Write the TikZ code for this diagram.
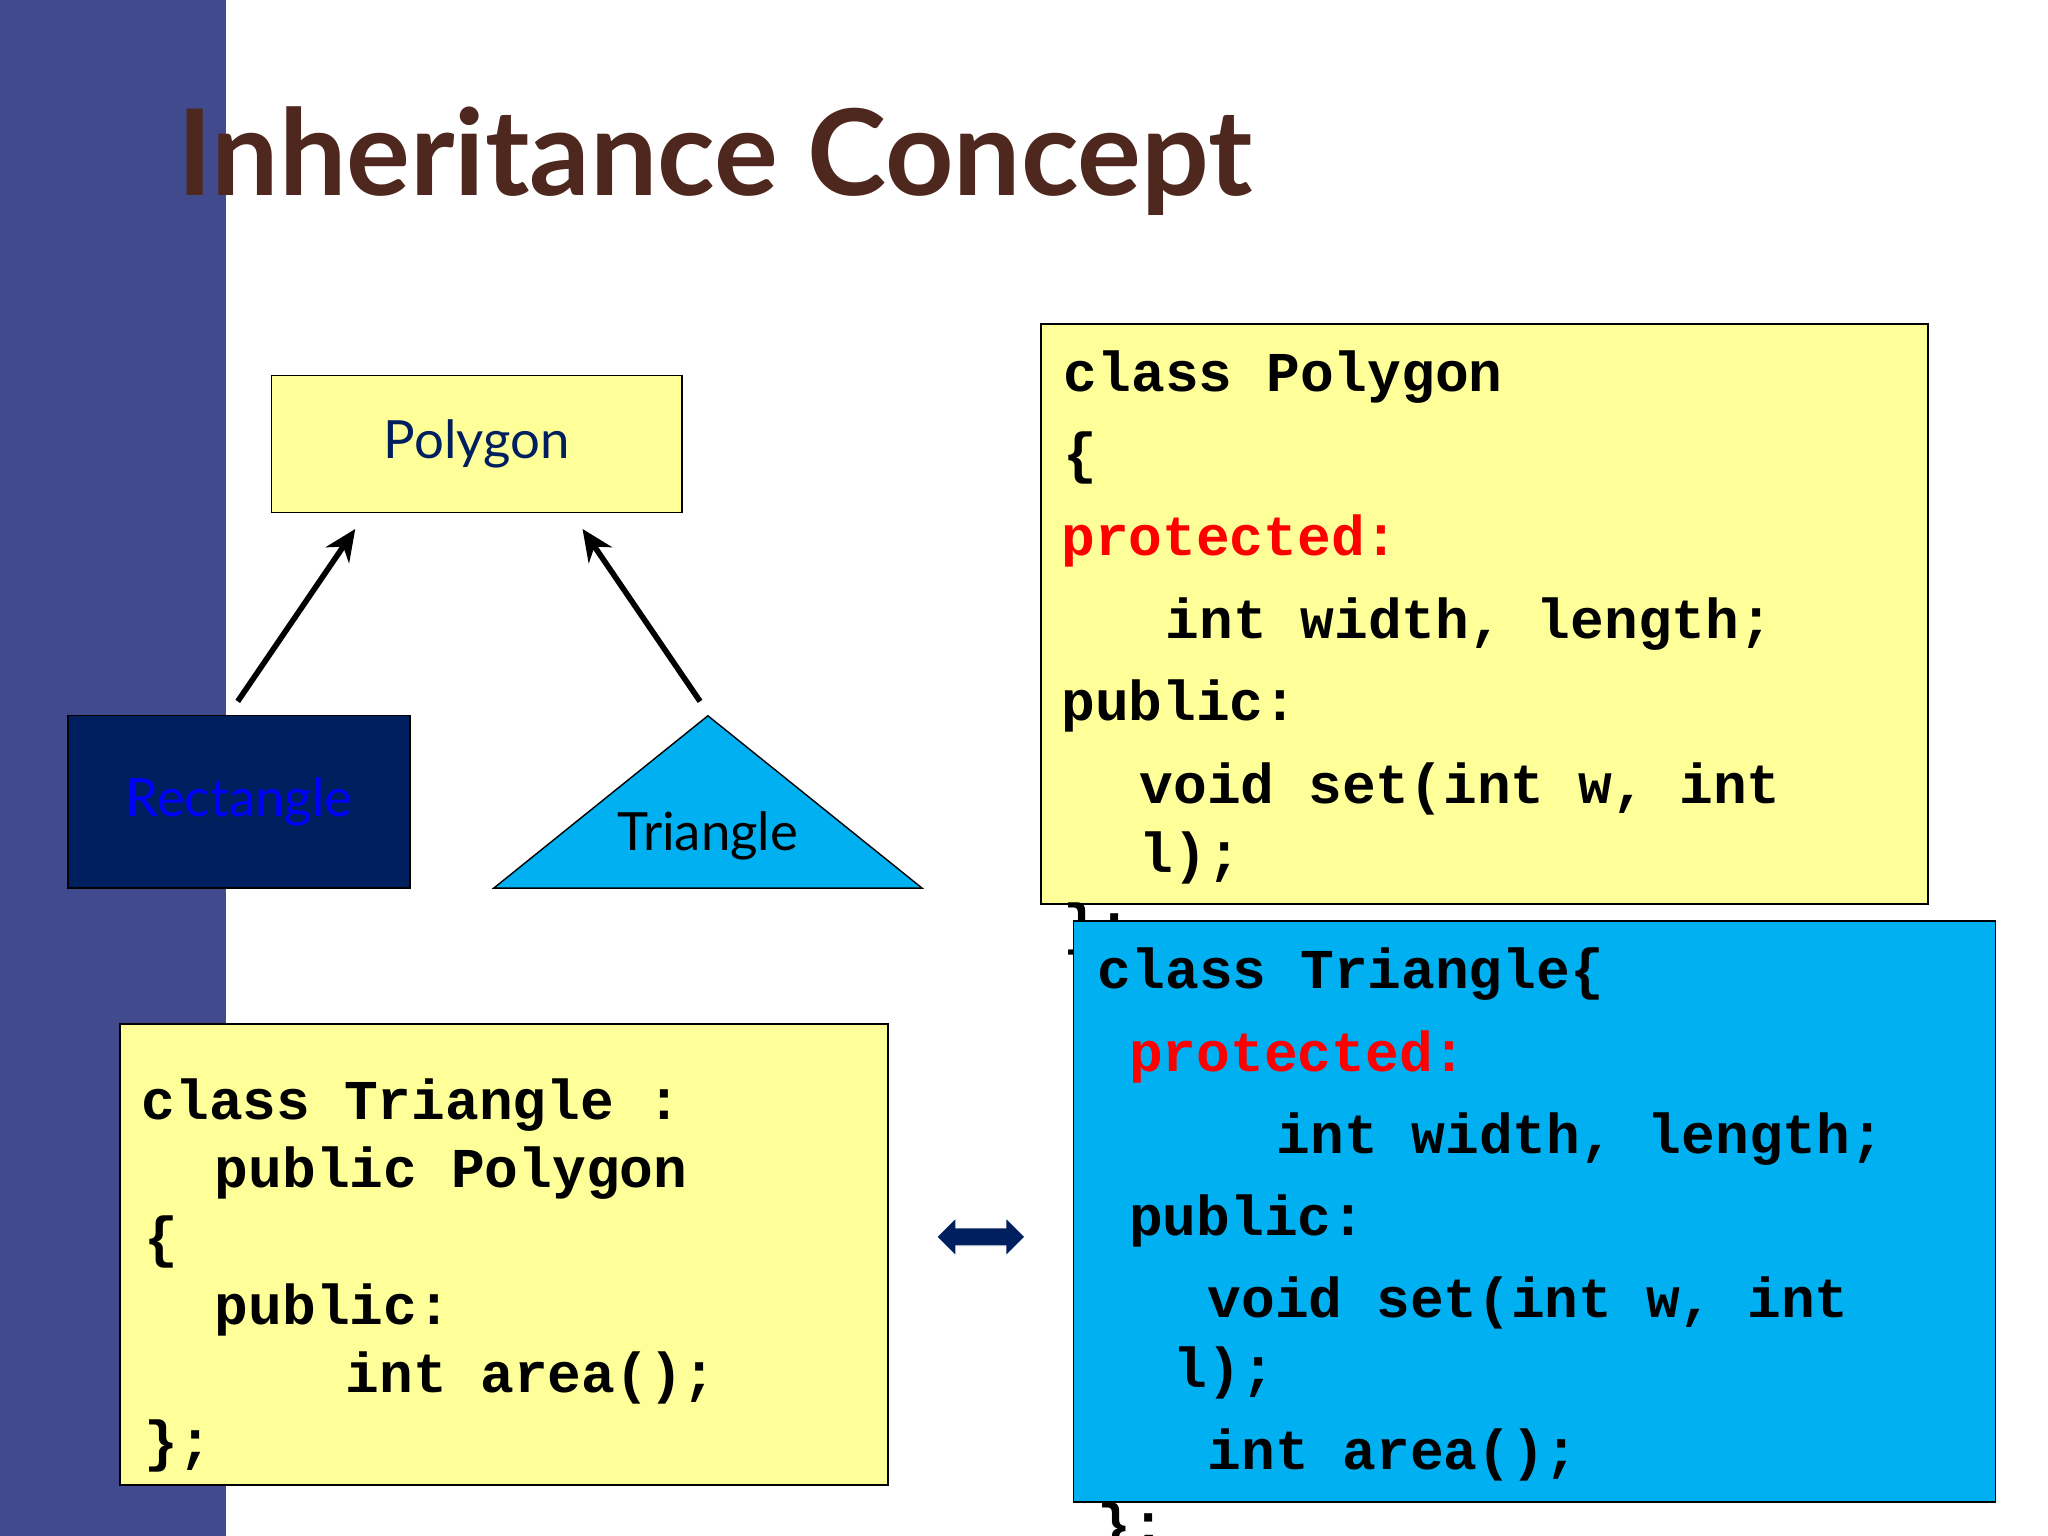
\documentclass[tikz,border=0pt]{standalone}
\usepackage{fontspec}
\setmainfont{Lato}
\setmonofont{Liberation Mono}
\usetikzlibrary{shapes.arrows,arrows.meta}
\definecolor{band}{RGB}{64,74,140}
\definecolor{titlebrown}{RGB}{78,40,30}
\definecolor{codeyellow}{RGB}{255,255,153}
\definecolor{skyblue}{RGB}{0,176,240}
\definecolor{deepnavy}{RGB}{0,31,95}
\definecolor{kwred}{RGB}{255,0,0}
\tikzset{
  codebox/.style={draw, fill=codeyellow},
  code/.style={anchor=base west, inner sep=0pt, font=\ttfamily\bfseries\fontsize{16}{19}\selectfont},
  kw/.style={code, text=kwred},
  inh/.style={line width=1.6pt, -{Stealth[length=9pt,width=8pt]}}
}
\begin{document}
\begin{tikzpicture}[x=0.013061cm, y=-0.013061cm]
\useasboundingbox (0,0) rectangle (1568,1176);
\fill[white] (0,0) rectangle (1568,1176);
\fill[band] (0,0) rectangle (173,1176);

\node[anchor=base west, inner sep=0pt, text=titlebrown, font=\bfseries\fontsize{34}{40}\selectfont]
  (title) at (135,150) {Inheritance Concept};

\begin{scope}[font=\fontsize{15}{18}\selectfont]
  \node[draw, fill=codeyellow, minimum width=314*0.013061cm, minimum height=105*0.013061cm, text=deepnavy]
    (Polygon) at (365,340) {Polygon};
  \node[draw, fill=deepnavy, minimum width=262*0.013061cm, minimum height=132*0.013061cm, text=blue]
    (Rectangle) at (183,614) {Rectangle};
  \fill[skyblue, draw=black] (378,680) -- (542,548) -- (706,680) -- cycle;
  \node (Triangle) at (542,640) {Triangle};
\end{scope}

\coordinate (RT) at (182,537);
\coordinate (TT) at (536,537);
\draw[inh] (RT) -- (272,405);
\draw[inh] (TT) -- (446,405);

% class Polygon
\node[codebox, minimum width=679*0.013061cm, minimum height=444*0.013061cm] (PolyCode) at (1136.5,470) {};
\node[code] (p1) at (814,300) {class Polygon};
\node[code] (p2) at (814,362) {\{};
\node[kw]   (p3) at (812,425) {protected:};
\node[code] (p4) at (892,489) {int width, length;};
\node[code] (p5) at (812,552) {public:};
\node[code] (p6) at (872,615) {void set(int w, int};
\node[code] (p7) at (872,668) {l);};
\node[code] (p8) at (814,722) {\};};

% class Triangle (expanded)
\node[draw, fill=skyblue, minimum width=706*0.013061cm, minimum height=445*0.013061cm] (TriCode) at (1175,927.5) {};
\node[code] (t1) at (840,757) {class Triangle\{};
\node[kw]   (t2) at (864,820) {protected:};
\node[code] (t3) at (977,883) {int width, length;};
\node[code] (t4) at (864,946) {public:};
\node[code] (t5) at (924,1009) {void set(int w, int};
\node[code] (t6) at (898,1062) {l);};
\node[code] (t7) at (924,1125) {int area();};
\node[code] (t8) at (840,1182) {\};};

% class Triangle : public Polygon
\node[codebox, minimum width=588*0.013061cm, minimum height=353*0.013061cm] (DerCode) at (386,960.5) {};
\node[code] (d1) at (108,857) {class Triangle :};
\node[code] (d2) at (164,909) {public Polygon};
\node[code] (d3) at (110,962) {\{};
\node[code] (d4) at (164,1014) {public:};
\node[code] (d5) at (264,1066) {int area();};
\node[code] (d6) at (110,1118) {\};};

\node[double arrow, draw=white, fill=deepnavy, minimum height=68*0.013061cm,
  inner xsep=0pt, inner ysep=2.4pt, double arrow head extend=3pt] (equiv) at (751,947) {};
\end{tikzpicture}
\end{document}
